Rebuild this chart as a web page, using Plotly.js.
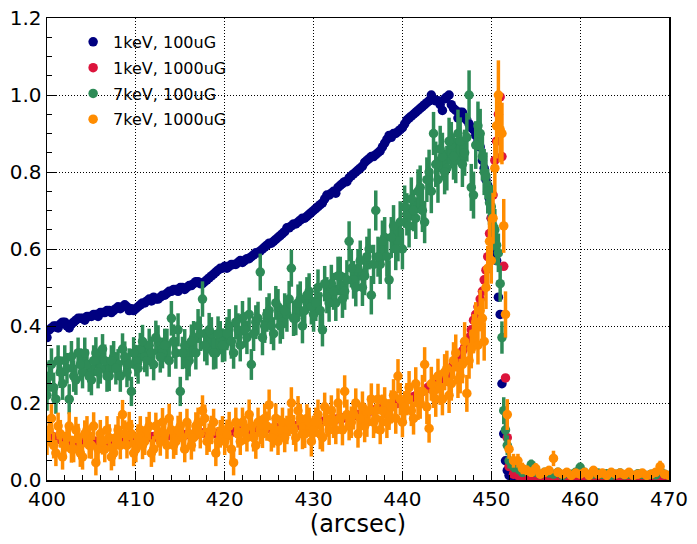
<!DOCTYPE html>
<html>
<head>
<meta charset="utf-8">
<script src="https://cdn.plot.ly/plotly-3.0.1.min.js"></script>
<style>html,body{margin:0;padding:0;background:#fff;}</style>
</head>
<body>
<div id="chart" style="width:697px;height:544px;"></div>
<script>
// ---- x positions (arcsec) ----
const xA = [400,400.5,401,401.5,402,402.5,403,403.5,404,404.5,405,405.5,406,406.5,407,407.5,408,408.5,409,409.5,
410,410.5,411,411.5,412,412.5,413,413.5,414,414.5,415,415.5,416,416.5,417,417.5,418,418.5,419,419.5,
420,420.5,421,421.5,422,422.5,423,423.5,424,424.5,425,425.5,426,426.5,427,427.5,428,428.5,429,429.5,
430,430.5,431,431.5,432,432.5,433,433.5,434,434.5,435,435.5,436,436.5,437,437.5,438,438.5,439,439.5,
440,440.5,441,441.5,442,442.5,443,443.5,444,444.5,445,445.5,446,446.5,447,447.5,448,448.5];
const xA2 = [400.25,400.75,401.25,401.75,402.25,402.75,403.25,403.75,404.25,404.75,405.25,405.75,406.25,406.75,407.25,407.75,408.25,408.75,409.25,409.75,
410.25,410.75,411.25,411.75,412.25,412.75,413.25,413.75,414.25,414.75,415.25,415.75,416.25,416.75,417.25,417.75,418.25,418.75,419.25,419.75,
420.25,420.75,421.25,421.75,422.25,422.75,423.25,423.75,424.25,424.75,425.25,425.75,426.25,426.75,427.25,427.75,428.25,428.75,429.25,429.75,
430.25,430.75,431.25,431.75,432.25,432.75,433.25,433.75,434.25,434.75,435.25,435.75,436.25,436.75,437.25,437.75,438.25,438.75,439.25,439.75,
440.25,440.75,441.25,441.75,442.25,442.75,443.25,443.75,444.25,444.75,445.25,445.75,446.25,446.75,447.25,447.75,448.25,448.75];
const xB = [449.0,449.2,449.4,449.6,449.8,450.0,450.2,450.4,450.6,450.8,451.0,451.2,451.4,451.6,451.8,452.0];
const xC = [452.5,453,453.5,454,454.5,455,455.5,456,456.5,457,457.5,458,458.5,459,459.5,460,460.5,461,461.5,462,
462.5,463,463.5,464,464.5,465,465.5,466,466.5,467,467.5,468,468.5,469,469.5,470];

// ---- 1keV, 100uG ----
const blueA = [0.37,0.395,0.40,0.405,0.41,0.395,0.41,0.42,0.42,0.425,0.425,0.43,0.435,0.435,0.44,0.44,0.45,0.45,0.45,0.445,
0.445,0.455,0.46,0.47,0.475,0.47,0.48,0.485,0.49,0.495,0.50,0.495,0.505,0.51,0.515,0.51,0.52,0.53,0.54,0.55,
0.555,0.555,0.56,0.565,0.565,0.575,0.58,0.59,0.595,0.605,0.615,0.62,0.63,0.64,0.655,0.66,0.665,0.675,0.68,0.69,
0.70,0.71,0.72,0.74,0.745,0.745,0.765,0.775,0.785,0.795,0.805,0.815,0.83,0.84,0.845,0.855,0.875,0.895,0.90,0.905,
0.915,0.935,0.945,0.955,0.965,0.975,0.985,0.99,0.985,0.96,0.995,0.975,0.96,0.955,0.94,0.925,0.91,0.88];
const blueA2 = [0.39,0.40,0.395,0.41,0.40,0.405,0.415,0.42,0.415,0.425,0.43,0.425,0.435,0.44,0.435,0.445,0.445,0.455,0.44,0.44,
0.45,0.46,0.465,0.465,0.47,0.475,0.48,0.49,0.495,0.49,0.50,0.50,0.505,0.515,0.51,0.515,0.525,0.535,0.545,0.55,
0.55,0.56,0.56,0.57,0.57,0.575,0.585,0.59,0.60,0.61,0.615,0.625,0.635,0.645,0.655,0.665,0.67,0.68,0.685,0.695,
0.705,0.715,0.73,0.74,0.75,0.76,0.77,0.775,0.79,0.80,0.81,0.825,0.835,0.84,0.85,0.865,0.885,0.89,0.90,0.91,
0.925,0.94,0.95,0.96,0.97,0.98,1.0,0.985,0.975,0.99,1.0,0.965,0.94,0.955,0.935,0.915,0.895,0.865];
const blueB = [0.83,0.81,0.78,0.765,0.73,0.68,0.62,0.59,0.57,0.475,0.43,0.25,0.12,0.05,0.025,0.012];
const blueC = [0.01,0.008,0.01,0.012,0.009,0.01,0.008,0.01,0.011,0.009,0.01,0.008,0.01,0.009,0.011,0.01,0.008,0.009,0.01,0.011,
0.009,0.01,0.008,0.01,0.009,0.01,0.011,0.008,0.01,0.009,0.01,0.008,0.009,0.01,0.01,0.009];

// ---- 1keV, 1000uG ----
const redA = [0.12,0.115,0.11,0.105,0.10,0.10,0.098,0.098,0.10,0.10,0.102,0.10,0.10,0.098,0.10,0.102,0.10,0.104,0.106,0.108,
0.108,0.11,0.11,0.112,0.113,0.11,0.112,0.115,0.115,0.116,0.116,0.118,0.118,0.117,0.12,0.122,0.122,0.123,0.12,0.124,
0.125,0.126,0.125,0.127,0.126,0.128,0.129,0.13,0.131,0.132,0.134,0.135,0.136,0.137,0.139,0.14,0.141,0.143,0.145,0.146,
0.147,0.15,0.152,0.154,0.156,0.158,0.16,0.162,0.164,0.167,0.17,0.173,0.176,0.18,0.183,0.186,0.19,0.193,0.196,0.2,
0.203,0.208,0.213,0.219,0.226,0.234,0.243,0.25,0.255,0.26,0.275,0.29,0.31,0.325,0.345,0.37,0.415,0.45];
const redA2 = [0.118,0.112,0.108,0.103,0.10,0.099,0.098,0.099,0.10,0.101,0.101,0.10,0.099,0.099,0.101,0.101,0.102,0.105,0.107,0.108,
0.109,0.11,0.111,0.112,0.112,0.111,0.113,0.115,0.115,0.116,0.117,0.118,0.118,0.118,0.121,0.122,0.122,0.122,0.122,0.124,
0.125,0.126,0.126,0.127,0.127,0.128,0.13,0.13,0.131,0.133,0.134,0.135,0.136,0.138,0.139,0.14,0.142,0.144,0.145,0.146,
0.148,0.151,0.153,0.155,0.157,0.159,0.161,0.163,0.165,0.168,0.171,0.174,0.178,0.181,0.184,0.188,0.191,0.195,0.198,0.201,
0.205,0.21,0.216,0.222,0.23,0.238,0.247,0.252,0.258,0.267,0.282,0.30,0.318,0.335,0.357,0.39,0.43,0.47];
const redB = [0.49,0.52,0.545,0.58,0.64,0.68,0.74,0.83,0.88,0.95,0.995,0.84,0.555,0.265,0.11,0.035];
const redC = [0.015,0.012,0.01,0.011,0.009,0.01,0.01,0.009,0.011,0.01,0.009,0.01,0.011,0.009,0.01,0.01,0.009,0.011,0.01,0.009,
0.01,0.011,0.009,0.01,0.01,0.009,0.011,0.01,0.009,0.01,0.01,0.009,0.011,0.01,0.009,0.01];

// ---- 7keV, 100uG ----
const greenA = [0.22,0.30,0.21,0.28,0.31,0.21,0.27,0.33,0.28,0.30,0.26,0.33,0.29,0.31,0.27,0.32,0.30,0.34,0.28,0.23,
0.31,0.34,0.32,0.35,0.30,0.36,0.33,0.35,0.42,0.33,0.23,0.35,0.31,0.37,0.40,0.47,0.34,0.38,0.33,0.37,
0.35,0.40,0.33,0.39,0.42,0.37,0.30,0.41,0.54,0.40,0.44,0.38,0.45,0.41,0.43,0.55,0.42,0.47,0.44,0.49,
0.43,0.50,0.39,0.48,0.51,0.46,0.53,0.49,0.62,0.52,0.55,0.50,0.58,0.48,0.70,0.56,0.63,0.52,0.66,0.62,
0.60,0.69,0.73,0.68,0.76,0.67,0.80,0.90,0.78,0.84,0.81,0.87,0.83,0.88,0.85,1.00,0.74,0.92];
const greenA2 = [0.27,0.24,0.31,0.25,0.29,0.32,0.26,0.30,0.33,0.27,0.31,0.28,0.34,0.27,0.31,0.29,0.27,0.32,0.30,0.33,
0.29,0.36,0.31,0.33,0.37,0.32,0.35,0.31,0.36,0.39,0.33,0.30,0.36,0.33,0.38,0.35,0.39,0.33,0.38,0.35,
0.38,0.36,0.41,0.35,0.39,0.43,0.38,0.42,0.37,0.43,0.40,0.46,0.40,0.44,0.47,0.42,0.46,0.40,0.48,0.45,
0.46,0.44,0.51,0.46,0.49,0.53,0.47,0.52,0.55,0.50,0.57,0.53,0.60,0.56,0.58,0.62,0.58,0.63,0.60,0.67,
0.71,0.66,0.70,0.75,0.70,0.78,0.75,0.82,0.86,0.80,0.88,0.84,0.90,0.82,0.89,0.76,0.87,0.90];
const greenB = [0.84,0.80,0.79,0.75,0.72,0.71,0.66,0.65,0.61,0.59,0.51,0.37,0.18,0.13,0.09,0.05];
const greenC = [0.035,0.03,0.02,0.025,0.04,0.02,0.015,0.02,0.018,0.015,0.02,0.012,0.018,0.015,0.02,0.033,0.02,0.012,0.015,0.018,
0.014,0.016,0.012,0.015,0.018,0.013,0.015,0.012,0.016,0.014,0.012,0.015,0.013,0.024,0.015,0.012];
const greenErrA = [0.040,0.042,0.038,0.041,0.040,0.039,0.041,0.040,0.042,0.039,0.040,0.041,0.040,0.042,0.039,0.041,0.040,0.041,0.039,0.038,
0.041,0.042,0.040,0.043,0.041,0.042,0.040,0.043,0.045,0.041,0.038,0.042,0.041,0.043,0.044,0.046,0.042,0.043,0.041,0.043,
0.042,0.044,0.041,0.043,0.045,0.043,0.040,0.044,0.048,0.044,0.045,0.043,0.046,0.044,0.045,0.048,0.044,0.046,0.045,0.047,
0.045,0.047,0.043,0.047,0.049,0.047,0.050,0.048,0.052,0.049,0.050,0.048,0.052,0.050,0.052,0.051,0.053,0.051,0.054,0.052,
0.053,0.055,0.056,0.054,0.057,0.055,0.058,0.056,0.060,0.062,0.058,0.060,0.059,0.062,0.060,0.064,0.061,0.063];
const greenErrA2 = [0.041,0.039,0.040,0.042,0.040,0.041,0.039,0.042,0.040,0.041,0.040,0.042,0.039,0.041,0.040,0.042,0.041,0.040,0.042,0.041,
0.040,0.043,0.041,0.042,0.044,0.041,0.043,0.042,0.044,0.043,0.042,0.041,0.044,0.043,0.045,0.042,0.044,0.043,0.045,0.044,
0.043,0.045,0.044,0.042,0.046,0.044,0.045,0.043,0.046,0.045,0.047,0.044,0.046,0.045,0.047,0.046,0.048,0.045,0.047,0.046,
0.047,0.048,0.046,0.049,0.048,0.050,0.049,0.051,0.050,0.049,0.052,0.050,0.053,0.051,0.052,0.054,0.052,0.053,0.055,0.054,
0.055,0.056,0.054,0.057,0.056,0.058,0.057,0.059,0.060,0.058,0.061,0.060,0.062,0.059,0.063,0.061,0.062,0.064];
const greenErrB = [0.062,0.060,0.061,0.058,0.057,0.056,0.055,0.054,0.052,0.050,0.047,0.042,0.035,0.030,0.026,0.020];
const greenErrC = [0.015,0.014,0.012,0.012,0.013,0.011,0.010,0.011,0.010,0.010,0.011,0.009,0.010,0.010,0.011,0.012,0.010,0.009,0.010,0.010,
0.009,0.010,0.009,0.010,0.010,0.009,0.010,0.009,0.010,0.009,0.009,0.010,0.009,0.011,0.010,0.009];

// ---- 7keV, 1000uG ----
const orangeA = [0.10,0.16,0.07,0.12,0.09,0.14,0.08,0.11,0.06,0.13,0.09,0.045,0.12,0.08,0.11,0.07,0.13,0.17,0.09,0.12,
0.08,0.13,0.10,0.14,0.08,0.12,0.15,0.09,0.13,0.10,0.14,0.08,0.12,0.11,0.15,0.18,0.10,0.13,0.07,0.12,
0.10,0.14,0.045,0.12,0.15,0.11,0.14,0.09,0.13,0.16,0.195,0.12,0.10,0.15,0.13,0.20,0.11,0.16,0.12,0.15,
0.13,0.17,0.11,0.15,0.18,0.13,0.16,0.23,0.14,0.17,0.12,0.19,0.15,0.21,0.16,0.13,0.20,0.17,0.22,0.27,
0.15,0.21,0.18,0.25,0.20,0.30,0.134,0.23,0.27,0.21,0.29,0.25,0.33,0.27,0.36,0.31,0.38,0.35];
const orangeA2 = [0.13,0.09,0.14,0.06,0.11,0.08,0.13,0.07,0.12,0.09,0.14,0.08,0.10,0.13,0.06,0.11,0.09,0.12,0.14,0.07,
0.11,0.09,0.13,0.07,0.14,0.10,0.12,0.16,0.09,0.13,0.11,0.15,0.09,0.14,0.12,0.16,0.11,0.15,0.10,0.13,
0.12,0.08,0.15,0.10,0.13,0.17,0.11,0.15,0.12,0.14,0.11,0.16,0.13,0.11,0.15,0.13,0.18,0.12,0.16,0.10,
0.15,0.12,0.19,0.13,0.15,0.20,0.13,0.17,0.15,0.20,0.16,0.14,0.18,0.15,0.21,0.18,0.15,0.19,0.16,0.21,
0.19,0.24,0.16,0.20,0.23,0.19,0.25,0.21,0.24,0.28,0.22,0.31,0.26,0.30,0.225,0.34,0.41,0.44];
const orangeB = [0.42,0.36,0.50,0.55,0.62,0.57,0.68,0.81,0.92,1.00,0.91,0.90,0.66,0.43,0.17,0.08];
const orangeC = [0.05,0.05,0.03,0.025,0.02,0.03,0.015,0.02,0.025,0.056,0.02,0.015,0.02,0.012,0.018,0.015,0.02,0.012,0.025,0.015,
0.018,0.012,0.02,0.015,0.018,0.014,0.02,0.012,0.015,0.018,0.012,0.015,0.02,0.035,0.015,0.012];
const orangeErrA = [0.035,0.037,0.034,0.036,0.035,0.036,0.034,0.036,0.033,0.036,0.035,0.033,0.036,0.034,0.035,0.034,0.036,0.038,0.034,0.036,
0.034,0.036,0.035,0.037,0.034,0.036,0.037,0.035,0.036,0.035,0.037,0.034,0.036,0.036,0.038,0.040,0.035,0.037,0.034,0.036,
0.035,0.037,0.033,0.036,0.038,0.036,0.037,0.035,0.037,0.038,0.040,0.036,0.035,0.038,0.037,0.041,0.036,0.038,0.037,0.038,
0.037,0.039,0.036,0.038,0.040,0.037,0.039,0.042,0.037,0.039,0.036,0.040,0.038,0.041,0.039,0.037,0.041,0.040,0.042,0.044,
0.039,0.042,0.040,0.043,0.041,0.045,0.037,0.043,0.045,0.042,0.046,0.044,0.048,0.045,0.050,0.047,0.051,0.050];
const orangeErrA2 = [0.036,0.034,0.035,0.033,0.036,0.035,0.034,0.036,0.035,0.034,0.036,0.035,0.034,0.036,0.035,0.034,0.036,0.035,0.037,0.034,
0.035,0.036,0.034,0.036,0.035,0.037,0.036,0.038,0.035,0.037,0.036,0.035,0.037,0.036,0.038,0.036,0.037,0.035,0.038,0.036,
0.037,0.036,0.038,0.035,0.037,0.039,0.036,0.038,0.037,0.038,0.036,0.039,0.037,0.038,0.036,0.039,0.038,0.040,0.037,0.039,
0.038,0.040,0.037,0.039,0.041,0.038,0.040,0.039,0.041,0.038,0.040,0.042,0.039,0.041,0.040,0.042,0.041,0.043,0.040,0.042,
0.041,0.043,0.042,0.044,0.043,0.045,0.044,0.046,0.045,0.047,0.046,0.048,0.047,0.049,0.048,0.050,0.052,0.054];
const orangeErrB = [0.052,0.050,0.056,0.058,0.062,0.060,0.066,0.075,0.085,0.090,0.085,0.080,0.070,0.060,0.040,0.025];
const orangeErrC = [0.018,0.018,0.015,0.013,0.012,0.014,0.010,0.011,0.012,0.020,0.011,0.010,0.011,0.009,0.010,0.010,0.011,0.009,0.012,0.010,
0.010,0.009,0.011,0.010,0.010,0.009,0.011,0.009,0.010,0.010,0.009,0.010,0.011,0.015,0.010,0.009];

const seriesNames = ['1keV, 100uG','1keV, 1000uG','7keV, 100uG','7keV, 1000uG'];

const x = xA.concat(xA2, xB, xC);
const FONT = 'DejaVu Sans, Liberation Sans, sans-serif';

function tr(name, y, err, color, grp) {
  const t = {
    type: 'scatter', mode: 'markers', name: name, x: x, y: y,
    legendgroup: grp,
    marker: {color: color, size: 9.5, line: {width: 0}},
    cliponaxis: true
  };
  if (err) {
    t.error_y = {type: 'data', array: err, visible: true, color: color, thickness: 3.5, width: 0};
  }
  return t;
}

const data = [
  tr(seriesNames[0], blueA.concat(blueA2, blueB, blueC), null, '#000080', 'a'),
  tr(seriesNames[1], redA.concat(redA2, redB, redC), null, '#DC143C', 'b'),
  tr(seriesNames[2], greenA.concat(greenA2, greenB, greenC), greenErrA.concat(greenErrA2, greenErrB, greenErrC), '#2E8B57', 'c'),
  tr(seriesNames[3], orangeA.concat(orangeA2, orangeB, orangeC), orangeErrA.concat(orangeErrA2, orangeErrB, orangeErrC), '#FF8C00', 'd')
];

const axisCommon = {
  ticks: 'inside', ticklen: 9, tickwidth: 1, tickcolor: '#000',
  showgrid: true, gridcolor: '#000', griddash: '1px,2px', gridwidth: 1,
  showline: true, mirror: true, linecolor: '#000', linewidth: 1.5,
  zeroline: false,
  tickfont: {family: FONT, size: 20, color: '#000'}
};

const layout = {
  width: 697, height: 544,
  margin: {l: 47, r: 28, t: 18, b: 64},
  paper_bgcolor: '#fff', plot_bgcolor: '#fff',
  font: {family: FONT, color: '#000'},
  showlegend: true,
  legend: {
    x: 0.042, y: 0.985, xanchor: 'left', yanchor: 'top',
    bgcolor: 'rgba(0,0,0,0)', borderwidth: 0,
    font: {family: FONT, size: 16, color: '#000'},
    traceorder: 'grouped', tracegroupgap: 2
  },
  xaxis: Object.assign({}, axisCommon, {
    range: [400, 470], tick0: 400, dtick: 10,
    minor: {dtick: 2, ticks: 'inside', ticklen: 5, tickcolor: '#000', showgrid: false},
    title: {text: '(arcsec)', font: {family: FONT, size: 24, color: '#000'}, standoff: 5}
  }),
  yaxis: Object.assign({}, axisCommon, {
    range: [0, 1.2], tick0: 0, dtick: 0.2, tickformat: '.1f',
    minor: {dtick: 0.05, ticks: 'inside', ticklen: 5, tickcolor: '#000', showgrid: false}
  })
};

Plotly.newPlot('chart', data, layout, {displayModeBar: false, staticPlot: true});
</script>
</body>
</html>
